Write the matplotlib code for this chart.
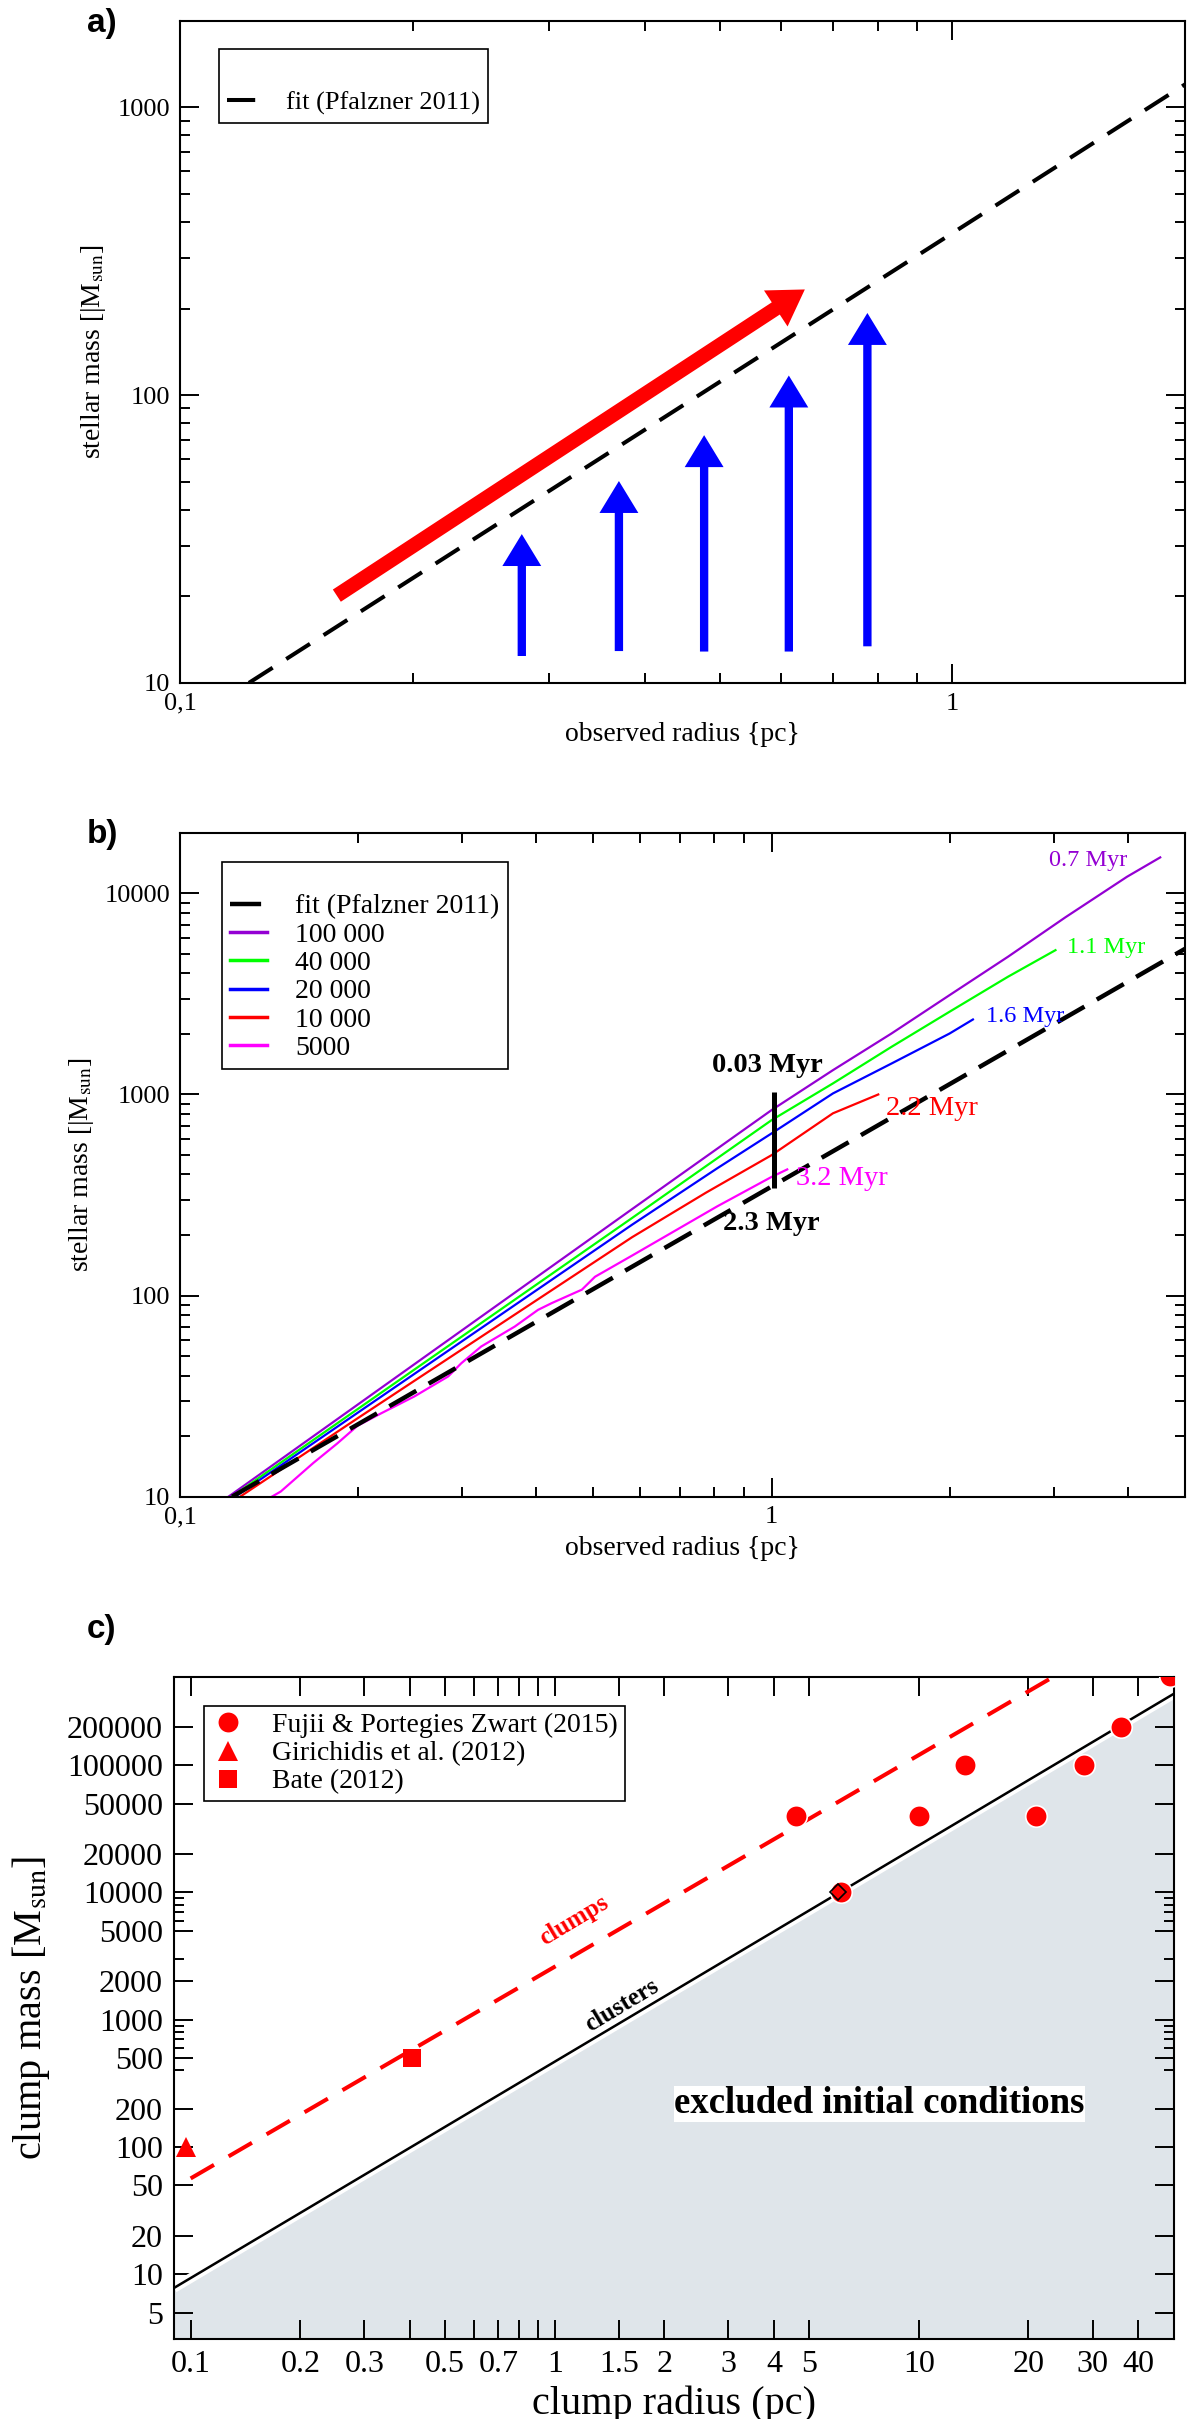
import numpy as np
import matplotlib.pyplot as plt
from matplotlib.patches import FancyArrowPatch, ArrowStyle
from matplotlib.ticker import LogLocator, NullFormatter

plt.rcParams['font.family'] = ['Liberation Serif', 'DejaVu Serif']
plt.rcParams['mathtext.fontset'] = 'stix'

# ---- panel a ----
fit_a_r = [0.1228, 2.0]
fit_a_m = [10, 1202]
red_arrow_r = [0.1596, 0.644]
red_arrow_m = [20.1, 233]
blue_r = [0.277, 0.370, 0.477, 0.614, 0.776]
blue_m_start = [12.4, 12.9, 12.85, 12.85, 13.4]
blue_m_end = [32.9, 50.3, 72.6, 117, 193]

# ---- panel b ----
fit_b_r = [0.1225, 5.0]
fit_b_m = [10, 5300]
r_100k = [0.1208, 0.581, 1.0, 1.27, 1.595, 2.0, 2.51, 3.14, 3.99, 4.54]
m_100k = [10, 269, 836, 1321, 2010, 3120, 4840, 7610, 12100, 15100]
r_40k = [0.1224, 0.581, 1.0, 1.27, 1.595, 2.0, 2.51, 3.02]
m_40k = [10, 243, 745, 1135, 1725, 2580, 3850, 5220]
r_20k = [0.124, 0.581, 0.81, 1.0, 1.27, 1.595, 2.0, 2.19]
m_20k = [10, 225, 430, 640, 1012, 1425, 2010, 2360]
r_10k = [0.1264, 0.1995, 0.581, 0.775, 1.0, 1.27, 1.515]
m_10k = [10, 24.5, 195, 325, 499, 806, 1000]
r_5k = [0.143, 0.148, 0.168, 0.1845, 0.1995, 0.219, 0.249, 0.284, 0.299, 0.323,
        0.368, 0.403, 0.425, 0.478, 0.503, 0.581, 0.81, 1.0, 1.063]
m_5k = [10, 10.6, 14.7, 18.4, 22.5, 26.0, 31.5, 39.6, 46.1, 55.8,
        70.1, 84.9, 91.7, 107, 124, 158, 278, 389, 424]
series_b = ['100 000', '40 000', '20 000', '10 000', '5000']
ages_b = ['0.7 Myr', '1.1 Myr', '1.6 Myr', '2.2 Myr', '3.2 Myr']
age_pos_r = [2.95, 3.16, 2.30, 1.56, 1.10]
age_pos_m = [14500, 5410, 2430, 855, 383]
age_size = [17.5, 17.5, 17.5, 20.5, 20.5]
bar_r = [1.008, 1.008]
bar_m = [344, 1030]

# ---- panel c ----
cluster_r = [0.09, 50.2]
cluster_m = [7.8, 365000]
clump_r = [0.1, 23.4]
clump_m = [56.6, 495000]
fujii_r = [4.6, 6.1, 10, 13.4, 21, 28.5, 36, 49]
fujii_m = [40000, 10000, 40000, 100000, 40000, 100000, 200000, 500000]
giri_r = [0.097]
giri_m = [100]
bate_r = [0.406]
bate_m = [500]
diamond_r = [6.0]
diamond_m = [10000]
xt_c = [0.1, 0.2, 0.3, 0.4, 0.5, 0.6, 0.7, 0.8, 0.9, 1, 1.5, 2, 3, 4, 5, 10, 20, 30, 40]
xl_c = ['0.1', '0.2', '0.3', '', '0.5', '', '0.7', '', '', '1', '1.5', '2', '3', '4', '5',
        '10', '20', '30', '40']
yt_c = [5, 10, 20, 50, 100, 200, 500, 1000, 2000, 5000, 10000, 20000, 50000, 100000, 200000]
yminor_c = [400, 600, 700, 800, 900, 3000, 6000, 7000, 8000, 9000]

purple = '#9400d3'
green = '#00ff00'
colors_b = [purple, green, 'blue', 'red', 'magenta']


def style(ax, major=14, minor=7):
    for s in ax.spines.values():
        s.set_linewidth(1.5)
    ax.tick_params(which='both', direction='in', top=True, right=True, width=1.4)
    ax.tick_params(which='major', length=major)
    ax.tick_params(which='minor', length=minor)


fig = plt.figure(figsize=(12, 24.19), dpi=100)
axa = fig.add_axes([0.15, 0.7177, 0.8375, 0.2737])
axb = fig.add_axes([0.15, 0.3813, 0.8375, 0.2744])
axc = fig.add_axes([0.145, 0.0331, 0.8333, 0.2737])

# ---------- a ----------
axa.set_xscale('log')
axa.set_yscale('log')
axa.set_xlim(0.1, 2)
axa.set_ylim(10, 2000)
fa, = axa.plot(fit_a_r, fit_a_m, color='black', lw=2.9, ls=(0, (7, 4)),
               label='fit (Pfalzner 2011)')
axa.add_patch(FancyArrowPatch((red_arrow_r[0], red_arrow_m[0]), (red_arrow_r[1], red_arrow_m[1]),
                              arrowstyle=ArrowStyle('Simple', head_length=25, head_width=31, tail_width=10.5),
                              mutation_scale=1, color='red', lw=0, shrinkA=0, shrinkB=0))
for r, m0, m1 in zip(blue_r, blue_m_start, blue_m_end):
    axa.add_patch(FancyArrowPatch((r, m0), (r, m1),
                                  arrowstyle=ArrowStyle('Simple', head_length=23, head_width=28, tail_width=6),
                                  mutation_scale=1, color='blue', lw=0, shrinkA=0, shrinkB=0))

# ---------- b ----------
axb.set_xscale('log')
axb.set_yscale('log')
axb.set_xlim(0.1, 5)
axb.set_ylim(10, 20000)
fb, = axb.plot(fit_b_r, fit_b_m, color='black', lw=3.2, ls=(0, (7, 3.2)),
               label='fit (Pfalzner 2011)', zorder=3)
curves = [(r_100k, m_100k), (r_40k, m_40k), (r_20k, m_20k), (r_10k, m_10k), (r_5k, m_5k)]
handles_b = [fb]
for (r, m), c, lab in zip(curves, colors_b, series_b):
    h, = axb.plot(r, m, color=c, lw=1.6, label=lab, zorder=2)
    handles_b.append(h)
for lab, c, x, y, fs in zip(ages_b, colors_b, age_pos_r, age_pos_m, age_size):
    axb.text(x, y, lab, color=c, fontsize=fs, ha='left', va='center')
axb.plot(bar_r, bar_m, color='black', lw=3.6, solid_capstyle='butt', zorder=4)
axb.text(0.984, 1400, '0.03 Myr', fontsize=20.5, fontweight='bold', ha='center', va='center')
axb.text(1.0, 229, '2.3 Myr', fontsize=20.5, fontweight='bold', ha='center', va='center')

for ax, lab_x, lab_y in [(axa, -0.0716, -0.059), (axb, -0.0836, -0.059)]:
    style(ax)
    ax.set_xticks([0.1, 1])
    ax.set_xticklabels(['0,1', '1'])
    ax.xaxis.set_minor_locator(LogLocator(subs=np.arange(2, 10)))
    ax.xaxis.set_minor_formatter(NullFormatter())
    ax.yaxis.set_minor_locator(LogLocator(subs=np.arange(2, 10)))
    ax.yaxis.set_minor_formatter(NullFormatter())
    ax.tick_params(labelsize=19, pad=7)
    ax.set_xlabel('observed radius {pc}', fontsize=20)
    ax.set_ylabel('stellar mass [|M$_\\mathrm{sun}$]', fontsize=20)
    ax.xaxis.set_label_coords(0.5, lab_y)
    ax.yaxis.set_label_coords(lab_x, 0.5)

axa.set_yticks([10, 100, 1000])
axa.set_yticklabels(['10', '100', '1000'])
axb.set_yticks([10, 100, 1000, 10000])
axb.set_yticklabels(['10', '100', '1000', '10000'])

lega = axa.legend(handles=[fa], loc='upper left', bbox_to_anchor=(0.0388, 0.958),
                  borderaxespad=0, fancybox=False, edgecolor='black', framealpha=1,
                  fontsize=19, handlelength=1.15, handletextpad=1.1, borderpad=0.3,
                  title=' ', title_fontsize=17)
lega.get_frame().set_linewidth(1.2)
legb = axb.legend(handles=handles_b, loc='upper left', bbox_to_anchor=(0.0413, 0.956),
                  borderaxespad=0, fancybox=False, edgecolor='black', framealpha=1,
                  fontsize=20, handlelength=1.35, handletextpad=1.0, borderpad=0.3,
                  labelspacing=0.1, title=' ', title_fontsize=17)
legb.get_frame().set_linewidth(1.2)
for h in legb.legend_handles[1:]:
    h.set_linewidth(2.5)

# ---------- c ----------
axc.set_xscale('log')
axc.set_yscale('log')
axc.set_xlim(0.09, 50.2)
axc.set_ylim(3.1, 495000)
axc.fill_between(cluster_r, [0.1, 0.1], cluster_m, color='#dfe5ea', lw=0, zorder=1)
axc.plot(cluster_r, cluster_m, color='white', lw=7, zorder=2, solid_capstyle='butt')
axc.plot(cluster_r, cluster_m, color='black', lw=1.8, zorder=3)
axc.plot(clump_r, clump_m, color='red', lw=2.9, ls=(0, (6.7, 4.2)), zorder=3)
hf, = axc.plot(fujii_r, fujii_m, 'o', color='red', ms=15.5, mec='white', mew=1.2,
               zorder=4, label='Fujii & Portegies Zwart (2015)')
hg, = axc.plot(giri_r, giri_m, '^', color='red', ms=15, mew=0, zorder=4,
               label='Girichidis et al. (2012)', clip_on=False)
hb, = axc.plot(bate_r, bate_m, 's', color='red', ms=13, mew=0, zorder=4, label='Bate (2012)')
axc.plot(diamond_r, diamond_m, 'D', mfc='none', mec='black', ms=8, mew=1.2, zorder=5)
axc.text(7.8, 218, 'excluded initial conditions', fontsize=26.5, fontweight='bold',
         ha='center', va='center', zorder=6,
         bbox=dict(facecolor='white', edgecolor='none', pad=0.5))
axc.text(1.13, 6040, 'clumps', color='red', fontsize=18, fontweight='bold',
         rotation=31, ha='center', va='center', rotation_mode='anchor', zorder=6)
axc.text(1.53, 1290, 'clusters', color='black', fontsize=18, fontweight='bold',
         rotation=31, ha='center', va='center', rotation_mode='anchor', zorder=6)

style(axc, major=14, minor=7)
axc.set_xticks(xt_c)
axc.set_xticklabels(xl_c)
axc.xaxis.set_minor_locator(plt.NullLocator())
axc.set_yticks(yt_c)
axc.set_yticklabels([str(v) for v in yt_c])
axc.set_yticks(yminor_c, minor=True)
axc.tick_params(labelsize=23, pad=8)
axc.set_xlabel('clump radius (pc)', fontsize=29)
axc.set_ylabel('clump mass [M$_\\mathrm{sun}$]', fontsize=29)
axc.xaxis.set_label_coords(0.5, -0.071)
axc.yaxis.set_label_coords(-0.122, 0.5)
legc = axc.legend(handles=[hf, hg, hb], loc='upper left', bbox_to_anchor=(0.03, 0.9565),
                  borderaxespad=0, fancybox=False, edgecolor='black', framealpha=1,
                  fontsize=20, handlelength=1.2, handletextpad=1.0, borderpad=0.25,
                  labelspacing=0.1, numpoints=1)
legc.get_frame().set_linewidth(1.2)

# panel labels
for lab, y in [('a)', 0.9903), ('b)', 0.6552), ('c)', 0.3262)]:
    fig.text(0.0725, y, lab, fontsize=24, fontweight='bold', family='Liberation Sans',
             ha='left', va='center')

fig.savefig('out.png', dpi=100)
